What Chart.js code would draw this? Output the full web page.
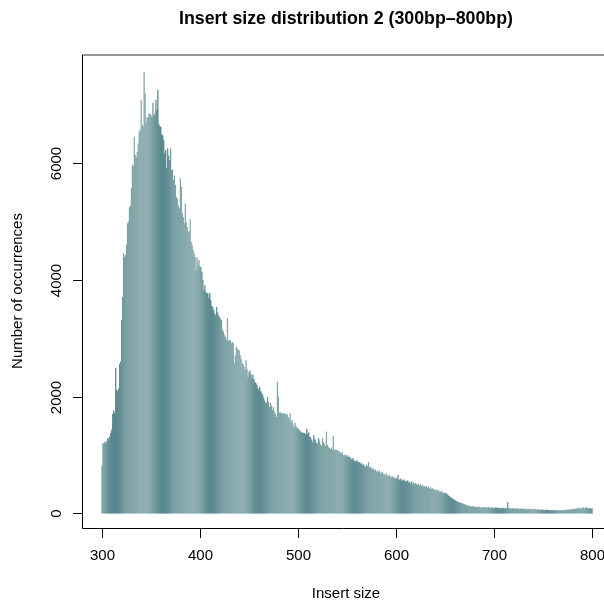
<!DOCTYPE html>
<html>
<head>
<meta charset="utf-8">
<script src="https://cdn.jsdelivr.net/npm/chart.js@4.4.0/dist/chart.umd.min.js"></script>
<style>
  html, body { margin: 0; padding: 0; background: #fff; overflow: hidden; }
  #wrap { width: 604px; height: 604px; }
</style>
</head>
<body>
<div id="wrap"><canvas id="histChart" width="604" height="604"></canvas></div>
<script>
const titleText = "Insert size distribution 2 (300bp\u2013800bp)";
const xTitle = "Insert size";
const yTitle = "Number of occurrences";
const xTicks = [300, 400, 500, 600, 700, 800];
const yTicks = [0, 2000, 4000, 6000];
const firstSize = 300;

// one count per insert size, 300 .. 800
const counts = [
  820, 1210, 1190, 1230, 1200, 1240, 1290, 1270, 1320, 1380,
  1440, 1700, 1760, 1720, 2490, 2110, 2090, 2140, 2560, 2600,
  3310, 3700, 4450, 4380, 4420, 4600, 4960, 4990, 5240, 5260,
  5560, 5960, 5930, 6440, 6130, 6100, 6180, 6330, 6530, 6560,
  7070, 6640, 6620, 7550, 7190, 6690, 6780, 6760, 6840, 6830,
  6810, 6770, 7020, 6810, 6840, 7070, 6900, 7240, 6660, 6620,
  6610, 6480, 6460, 6380, 6160, 6210, 5900, 6240, 6120, 6040,
  6240, 5870, 5880, 5700, 5780, 5620, 5410, 5380, 5260, 5220,
  5730, 5580, 5140, 5070, 4960, 5300, 4980, 4900, 4810, 4830,
  5030, 4640, 4590, 4510, 4450, 4380, 4160, 4380, 4250, 4330,
  4210, 4220, 4130, 3990, 3820, 3900, 3790, 3770, 3760, 3690,
  3770, 3650, 3550, 3530, 3480, 3420, 3390, 3530, 3440, 3390,
  3360, 3330, 3310, 3140, 3110, 3050, 3020, 2970, 3340, 2950,
  2970, 2960, 2910, 2930, 2910, 2570, 2700, 2850, 2820, 2800,
  2790, 2710, 2640, 2570, 2560, 2510, 2450, 2620, 2470, 2330,
  2420, 2450, 2380, 2310, 2370, 2300, 2250, 2230, 2200, 2140,
  2110, 2160, 2090, 2060, 2030, 1980, 1930, 1890, 1900, 1990,
  1910, 1820, 1890, 1840, 1770, 1820, 1740, 1700, 1650, 2250,
  2000, 1720, 1730, 1710, 1720, 1720, 1700, 1710, 1690, 1700,
  1650, 1620, 1720, 1560, 1600, 1510, 1470, 1550, 1490, 1460,
  1460, 1430, 1420, 1390, 1390, 1370, 1380, 1370, 1350, 1450,
  1360, 1390, 1310, 1300, 1260, 1220, 1340, 1280, 1250, 1210,
  1200, 1290, 1250, 1180, 1160, 1290, 1220, 1190, 1150, 1400,
  1170, 1140, 1120, 1100, 1130, 1090, 1330, 1100, 1090, 1080,
  1090, 1060, 1070, 1040, 1030, 1050, 1000, 990, 1010, 970,
  1000, 980, 960, 970, 940, 920, 950, 910, 900, 880,
  910, 890, 870, 880, 850, 860, 830, 840, 810, 800,
  830, 810, 880, 790, 800, 780, 760, 770, 740, 750,
  720, 730, 710, 740, 700, 690, 720, 680, 670, 660,
  690, 650, 640, 660, 630, 620, 640, 610, 620, 600,
  610, 590, 660, 580, 570, 600, 570, 560, 580, 550,
  560, 540, 570, 530, 540, 520, 550, 510, 530, 500,
  520, 500, 490, 510, 480, 500, 470, 490, 460, 470,
  450, 470, 440, 460, 430, 450, 420, 440, 410, 420,
  400, 410, 390, 400, 370, 390, 360, 380, 350, 340,
  360, 350, 330, 320, 300, 290, 270, 265, 250, 240,
  230, 220, 210, 200, 195, 190, 180, 175, 170, 165,
  160, 150, 145, 140, 130, 135, 125, 120, 130, 115,
  120, 110, 115, 105, 120, 110, 100, 115, 105, 110,
  100, 110, 95, 105, 100, 115, 95, 100, 105, 95,
  100, 95, 110, 90, 100, 95, 85, 100, 90, 95,
  90, 85, 100, 90, 200, 95, 85, 90, 80, 95,
  85, 90, 80, 85, 95, 75, 85, 80, 90, 75,
  80, 85, 70, 80, 75, 85, 70, 75, 80, 65,
  75, 70, 80, 65, 70, 75, 60, 70, 65, 70,
  60, 65, 55, 60, 70, 55, 60, 50, 60, 55,
  60, 50, 55, 60, 50, 55, 60, 50, 55, 60,
  55, 60, 50, 65, 60, 70, 60, 75, 65, 70,
  80, 70, 85, 75, 90, 80, 95, 85, 100, 80,
  90, 105, 85, 95, 110, 90, 100, 85, 95, 80,
  90
];

const points = counts.map((c, i) => ({ x: firstSize + i, y: c }));

// teal shading that darkens in bands roughly every 50bp
const light = [130, 166, 168];
const dark = [72, 125, 131];
function barColour(size) {
  const period = 49.3;
  let ph = ((size - 311) % period + period) % period / period;
  let t = Math.pow((1 + Math.cos(2 * Math.PI * ph)) / 2, 2.5);
  const c = light.map((l, k) => Math.round(l + (dark[k] - l) * t));
  return `rgb(${c[0]},${c[1]},${c[2]})`;
}
const colours = points.map(p => barColour(p.x));

const rAxes = {
  id: 'rAxes',
  afterDraw(chart) {
    const ctx = chart.ctx;
    const xs = chart.scales.x, ys = chart.scales.y;
    const a = chart.chartArea;
    ctx.save();
    ctx.lineWidth = 1;
    // frame
    ctx.strokeStyle = '#333';
    ctx.beginPath();
    ctx.moveTo(a.right, a.top);
    ctx.lineTo(a.left, a.top);
    ctx.stroke();
    ctx.strokeStyle = '#000';
    ctx.beginPath();
    ctx.moveTo(a.left + 0.5, a.top);
    ctx.lineTo(a.left + 0.5, a.bottom + 0.5);
    ctx.lineTo(a.right, a.bottom + 0.5);
    ctx.stroke();

    ctx.fillStyle = '#000';
    ctx.font = "15px 'Liberation Sans', Arial, sans-serif";
    // x ticks
    ctx.textAlign = 'center';
    ctx.textBaseline = 'middle';
    xTicks.forEach(v => {
      const px = Math.round(xs.getPixelForValue(v)) + 0.5;
      ctx.beginPath();
      ctx.moveTo(px, a.bottom);
      ctx.lineTo(px, a.bottom + 10);
      ctx.stroke();
      ctx.fillText(String(v), px, 556);
    });
    // y ticks
    yTicks.forEach(v => {
      const py = Math.round(ys.getPixelForValue(v)) + 0.5;
      ctx.beginPath();
      ctx.moveTo(a.left, py);
      ctx.lineTo(a.left - 9, py);
      ctx.stroke();
      ctx.save();
      ctx.translate(57, py);
      ctx.rotate(-Math.PI / 2);
      ctx.fillText(String(v), 0, 0);
      ctx.restore();
    });
    // axis titles
    ctx.fillText(xTitle, 346, 594);
    ctx.save();
    ctx.translate(18, 291);
    ctx.rotate(-Math.PI / 2);
    ctx.fillText(yTitle, 0, 0);
    ctx.restore();
    // main title
    ctx.font = "bold 17.8px 'Liberation Sans', Arial, sans-serif";
    ctx.fillText(titleText, 346, 19);
    ctx.restore();
  }
};

new Chart(document.getElementById('histChart'), {
  type: 'bar',
  data: {
    datasets: [{
      data: points,
      backgroundColor: colours,
      borderWidth: 0,
      barPercentage: 1.25,
      categoryPercentage: 1.0
    }]
  },
  options: {
    responsive: false,
    animation: false,
    events: [],
    layout: { padding: { left: 82, right: 0, top: 55, bottom: 76 } },
    plugins: { legend: { display: false }, tooltip: { enabled: false } },
    scales: {
      x: { type: 'linear', min: 279.6, max: 812.2, display: false, offset: false },
      y: { min: -248, max: 7838, display: false }
    }
  },
  plugins: [rAxes]
});
</script>
</body>
</html>
